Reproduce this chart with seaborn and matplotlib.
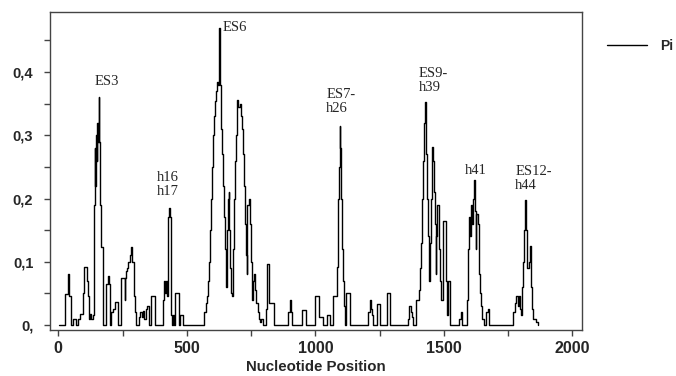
import numpy as np
import pandas as pd
import seaborn as sns
import matplotlib
matplotlib.use("Agg")
import matplotlib.pyplot as plt

# nucleotide diversity (Pi) along the alignment, sliding window
position = [4, 27, 38, 41, 49, 57, 70, 78, 84, 95, 100, 113, 116, 119, 124, 128, 134,
            139, 142, 144, 147, 150, 152, 155, 158, 160, 162, 166, 175,
            185, 193, 197, 201, 207, 214, 220, 233, 246, 258, 260, 264, 268, 272, 279,
            283, 286, 293, 298, 304, 314, 319, 324, 329, 334, 340, 345, 352, 362, 376,
            406, 410, 414, 418, 422, 425, 429, 434, 437, 443, 446, 451, 455, 468, 473, 484,
            568, 573, 577, 581, 585, 589, 593, 597, 601, 605, 609, 613, 617, 621, 624, 627,
            630, 633, 637, 641, 645, 648, 651, 654, 657, 660, 663, 666, 669, 672, 675,
            679, 683, 687, 691, 695, 700, 705, 709, 713, 717, 721, 725, 729, 733, 736,
            740, 744, 748, 752, 755, 759, 763, 767, 771, 775, 779, 785, 790, 797, 808,
            813, 818, 821, 838, 895, 900, 904, 910, 947, 964, 999, 1016, 1029, 1044, 1057,
            1068, 1083, 1087, 1091, 1094, 1097, 1100, 1104, 1106, 1110, 1114, 1121, 1134,
            1206, 1211, 1216, 1220, 1225, 1239, 1252, 1280, 1291,
            1362, 1366, 1371, 1375, 1380, 1392, 1403, 1407, 1411, 1415, 1419, 1423, 1426,
            1431, 1435, 1439, 1443, 1446, 1450, 1453, 1457, 1461, 1465, 1468, 1471, 1475,
            1479, 1483, 1487, 1497, 1507, 1512, 1516, 1525,
            1560, 1566, 1572, 1588, 1593, 1598, 1602, 1606, 1610, 1614, 1617, 1620, 1623,
            1626, 1632, 1636, 1640, 1645, 1650, 1656, 1664, 1670, 1676,
            1770, 1776, 1782, 1788, 1792, 1796, 1800, 1804, 1808, 1812, 1816, 1819, 1822,
            1825, 1829, 1833, 1837, 1841, 1845, 1857, 1866]
pi = [0.0, 0.049, 0.081, 0.046, 0.0, 0.009, 0.0, 0.009, 0.018, 0.05, 0.092, 0.07, 0.045, 0.01, 0.018, 0.01, 0.015,
      0.19, 0.28, 0.22, 0.30, 0.26, 0.32, 0.29, 0.36, 0.29, 0.19, 0.124, 0.0,
      0.065, 0.077, 0.065, 0.0, 0.02, 0.025, 0.037, 0.0, 0.075, 0.04, 0.075, 0.085, 0.09, 0.1, 0.11,
      0.123, 0.1, 0.045, 0.02, 0.0, 0.012, 0.02, 0.012, 0.022, 0.01, 0.025, 0.03, 0.0, 0.045, 0.0,
      0.04, 0.07, 0.05, 0.07, 0.045, 0.17, 0.185, 0.17, 0.015, 0.0, 0.015, 0.0, 0.05, 0.0, 0.015, 0.0,
      0.02, 0.035, 0.045, 0.07, 0.1, 0.15, 0.2, 0.25, 0.3, 0.33, 0.355, 0.37, 0.385, 0.38, 0.42, 0.47,
      0.38, 0.31, 0.27, 0.22, 0.17, 0.12, 0.09, 0.06, 0.15, 0.2, 0.21, 0.15, 0.09, 0.05, 0.045,
      0.12, 0.2, 0.26, 0.3, 0.356, 0.345, 0.35, 0.33, 0.31, 0.27, 0.22, 0.16, 0.11, 0.08, 0.19,
      0.2, 0.16, 0.1, 0.06, 0.04, 0.07, 0.08, 0.055, 0.035, 0.02, 0.01, 0.005, 0.01, 0.0, 0.025,
      0.097, 0.07, 0.035, 0.0, 0.02, 0.04, 0.02, 0.0, 0.024, 0.0, 0.045, 0.012, 0.0, 0.015, 0.0,
      0.045, 0.092, 0.2, 0.25, 0.315, 0.28, 0.2, 0.12, 0.07, 0.03, 0.0, 0.05, 0.0,
      0.02, 0.04, 0.025, 0.015, 0.0, 0.033, 0.0, 0.05, 0.0,
      0.01, 0.03, 0.02, 0.012, 0.0, 0.04, 0.055, 0.09, 0.13, 0.2, 0.26, 0.32, 0.353,
      0.27, 0.2, 0.14, 0.07, 0.13, 0.2, 0.282, 0.26, 0.21, 0.16, 0.08, 0.14, 0.19,
      0.12, 0.07, 0.04, 0.165, 0.07, 0.015, 0.07, 0.0,
      0.01, 0.02, 0.0, 0.04, 0.12, 0.17, 0.14, 0.19, 0.16, 0.2, 0.229, 0.18, 0.12,
      0.175, 0.16, 0.08, 0.05, 0.03, 0.01, 0.0, 0.02, 0.026, 0.0,
      0.02, 0.035, 0.045, 0.03, 0.045, 0.025, 0.015, 0.06, 0.1, 0.15, 0.198, 0.15, 0.11,
      0.09, 0.1, 0.125, 0.06, 0.025, 0.01, 0.005, 0.0]

region_labels = ["ES3", "ES6", "h16\nh17", "ES7-\nh26", "ES9-\nh39", "h41", "ES12-\nh44"]
label_x = [190, 640, 426, 1042, 1401, 1582, 1777]
label_y = [0.385, 0.47, 0.222, 0.353, 0.386, 0.245, 0.232]
label_ha = ["center", "left", "center", "left", "left", "left", "left"]

xticks = list(range(0, 2001, 250))
xtick_labels = ["0", "", "500", "", "1000", "", "1500", "", "2000"]
yticks = [0, 0.05, 0.1, 0.15, 0.2, 0.25, 0.3, 0.35, 0.4, 0.45]
ytick_labels = ["0,", "", "0,1", "", "0,2", "", "0,3", "", "0,4", ""]

df = pd.DataFrame({"Nucleotide Position": position, "Pi": pi})

sns.set_style("ticks")
plt.rcParams["font.family"] = ["Liberation Sans", "DejaVu Sans"]

fig, ax = plt.subplots(figsize=(6.76, 3.76), dpi=100)
fig.subplots_adjust(left=50 / 676, right=582 / 676, top=1 - 12 / 376, bottom=1 - 330 / 376)

sns.lineplot(data=df, x="Nucleotide Position", y="Pi", estimator=None, sort=False,
             drawstyle="steps-post", color="black", linewidth=1.0, label="Pi", ax=ax)

for txt, x, y, ha in zip(region_labels, label_x, label_y, label_ha):
    ax.text(x, y, txt, ha=ha, va="center", fontsize=10.5,
            family=["Liberation Serif", "DejaVu Serif"], linespacing=1.1)

ax.set_xlim(-32, 2037)
ax.set_ylim(-0.008, 0.495)
ax.set_xticks(xticks, xtick_labels)
ax.set_yticks(yticks, ytick_labels)
ax.tick_params(axis="both", direction="out", length=4, width=1, color="#444444",
               bottom=True, left=True, top=False, right=False)
ax.tick_params(axis="y", pad=8, labelsize=10.5)
ax.tick_params(axis="x", pad=4, labelsize=11.5)
for lab in ax.get_xticklabels() + ax.get_yticklabels():
    lab.set_fontweight("bold")

ax.set_xlabel("Nucleotide Position", fontsize=10.8, fontweight="bold", labelpad=3)
ax.set_ylabel("")
for sp in ax.spines.values():
    sp.set_visible(True)
    sp.set_color("#444444")
    sp.set_linewidth(1.0)

leg = ax.legend(loc="center left", bbox_to_anchor=((607 - 50) / 532, (330 - 46) / 318),
                frameon=False, borderpad=0, borderaxespad=0, handlelength=2.9,
                handletextpad=0.9, prop={"weight": "bold", "size": 10})

fig.savefig("out.png", dpi=100)
